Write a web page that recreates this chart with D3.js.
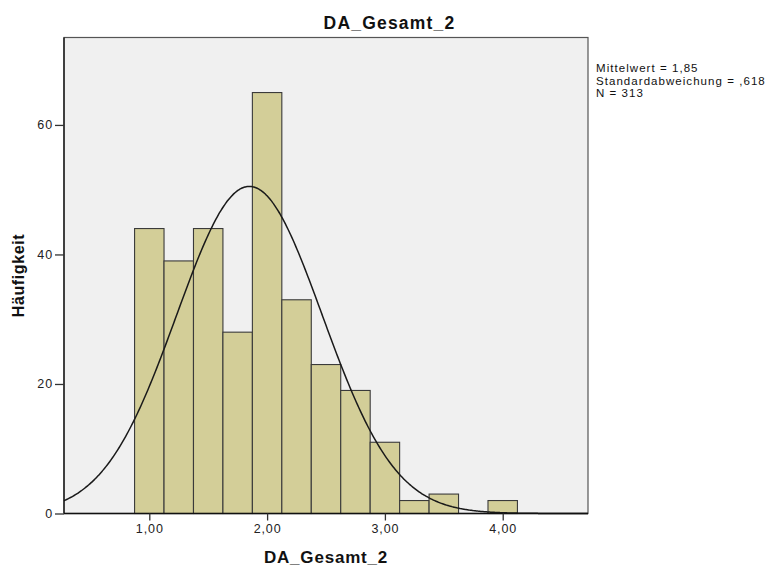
<!DOCTYPE html>
<html>
<head>
<meta charset="utf-8">
<script src="https://cdn.jsdelivr.net/npm/d3@7"></script>
<style>
  body { margin: 0; background: #fff; }
  svg { display: block; font-family: "Liberation Sans", Arial, sans-serif; }
</style>
</head>
<body>
<svg id="chart" width="773" height="572"></svg>
<script>
// ---- data ----
const title = "DA_Gesamt_2";
const xLabel = "DA_Gesamt_2";
const yLabel = "Häufigkeit";
const binStarts = [0.875, 1.125, 1.375, 1.625, 1.875, 2.125, 2.375, 2.625, 2.875, 3.125, 3.375, 3.625, 3.875];
const binWidth = 0.25;
const counts = [44, 39, 44, 28, 65, 33, 23, 19, 11, 2, 3, 0, 2];
const xTicks = [1, 2, 3, 4];
const yTicks = [0, 20, 40, 60];
const mean = 1.85, sd = 0.618, n = 313;
const statsLines = ["Mittelwert = 1,85", "Standardabweichung = ,618", "N = 313"];

// ---- layout ----
const svg = d3.select("#chart");
const L = 64, R = 588, T = 37.5, B = 513.5;
const x = d3.scaleLinear().domain([0.2759, 4.724]).range([L, R]);
const y = d3.scaleLinear().domain([0, 73.5]).range([B, T]);
const fmt = v => d3.format(".2f")(v).replace(".", ",");

// plot background + frame
svg.append("rect").attr("x", L).attr("y", T).attr("width", R - L).attr("height", B - T)
  .attr("fill", "#f0f0f0").attr("stroke", "#555").attr("stroke-width", 1.2);

// bars
const bars = binStarts.map((s, i) => ({ s, c: counts[i] })).filter(d => d.c > 0);
svg.append("g").selectAll("rect").data(bars).join("rect")
  .attr("x", d => x(d.s))
  .attr("y", d => y(d.c))
  .attr("width", d => x(d.s + binWidth) - x(d.s))
  .attr("height", d => y(0) - y(d.c))
  .attr("fill", "#d3ce98")
  .attr("stroke", "#3a3a3a")
  .attr("stroke-width", 1.1);

// normal curve
const scale = n * binWidth;
const pdf = v => Math.exp(-0.5 * ((v - mean) / sd) ** 2) / (sd * Math.sqrt(2 * Math.PI));
const xs = d3.range(0, 401).map(i => x.domain()[0] + (x.domain()[1] - x.domain()[0]) * i / 400);
svg.append("path")
  .datum(xs)
  .attr("d", d3.line().x(v => x(v)).y(v => y(scale * pdf(v))).curve(d3.curveBasis))
  .attr("fill", "none").attr("stroke", "#1a1a1a").attr("stroke-width", 1.5);

// axes
const xAxis = svg.append("g").attr("transform", `translate(0,${B})`)
  .call(d3.axisBottom(x).tickValues(xTicks).tickFormat(fmt).tickSize(7).tickPadding(4));
const yAxis = svg.append("g").attr("transform", `translate(${L},0)`)
  .call(d3.axisLeft(y).tickValues(yTicks).tickSize(9).tickPadding(2));
[xAxis, yAxis].forEach(a => {
  a.select(".domain").attr("stroke", "#111").attr("stroke-width", 1.3);
  a.selectAll(".tick line").attr("stroke", "#333").attr("stroke-width", 1.3);
  a.selectAll("text").attr("font-size", 12.5).attr("fill", "#222")
    .style("letter-spacing", "0.9px")
    .style("font-family", "'Liberation Sans', Arial, sans-serif");
});
xAxis.select(".domain").attr("d", `M${L},0H${R}`);
yAxis.select(".domain").attr("d", `M0,${T}V${B}`);

// title
svg.append("text").attr("x", 389.5).attr("y", 28.5).attr("text-anchor", "middle")
  .attr("font-size", 17.5).attr("font-weight", "bold").style("letter-spacing", "1.2px")
  .attr("fill", "#111").text(title);

// x label
svg.append("text").attr("x", (L + R) / 2).attr("y", 563).attr("text-anchor", "middle")
  .attr("font-size", 17).attr("font-weight", "bold").style("letter-spacing", "0.8px")
  .attr("fill", "#111").text(xLabel);

// y label
svg.append("text").attr("transform", `translate(24,${(T + B) / 2}) rotate(-90)`)
  .attr("text-anchor", "middle")
  .attr("font-size", 16).attr("font-weight", "bold").style("letter-spacing", "0.6px")
  .attr("fill", "#111").text(yLabel);

// stats
svg.append("g").selectAll("text").data(statsLines).join("text")
  .attr("x", 596).attr("y", (d, i) => 72 + i * 12.5)
  .attr("font-size", 11.5).style("letter-spacing", "1.05px")
  .attr("fill", "#111").text(d => d);
</script>
</body>
</html>
